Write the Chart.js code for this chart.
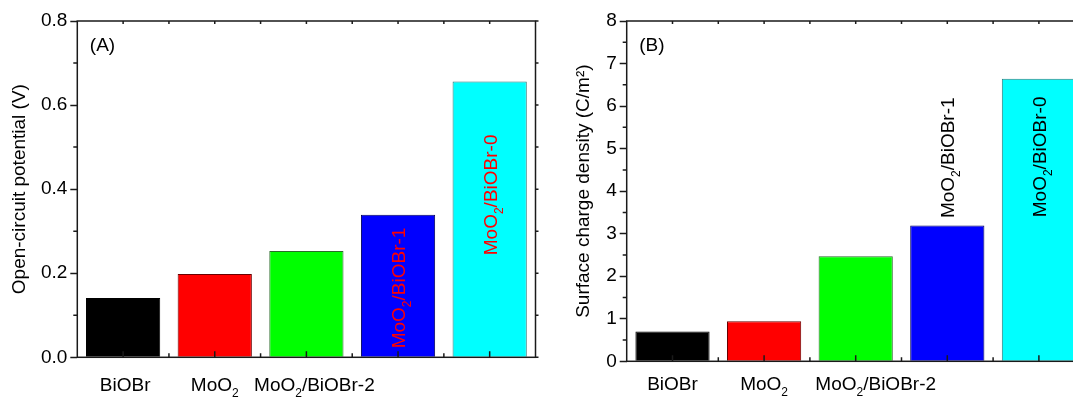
<!DOCTYPE html>
<html>
<head>
<meta charset="utf-8">
<script src="https://cdn.jsdelivr.net/npm/chart.js@4.4.0/dist/chart.umd.min.js"></script>
<style>
  html, body { margin: 0; padding: 0; background: #fff; overflow: hidden; }
  #wrapA { position: absolute; left: 0; top: 0; width: 549px; height: 397px; }
  #wrapB { position: absolute; left: 549px; top: 0; width: 560px; height: 397px; }
</style>
</head>
<body>
<div id="wrapA"><canvas id="chartA"></canvas></div>
<div id="wrapB"><canvas id="chartB"></canvas></div>
<script>
// -------------------------------
// Data
// -------------------------------
const categories = ["BiOBr", "MoO₂", "MoO₂/BiOBr-2", "MoO₂/BiOBr-1", "MoO₂/BiOBr-0"];
const potentialValues = [0.141, 0.198, 0.253, 0.339, 0.656];   // V
const chargeValues = [0.70, 0.94, 2.47, 3.19, 6.64];           // C/m²
const potentialTicks = [0, 0.2, 0.4, 0.6, 0.8];
const chargeTicks = [0, 1, 2, 3, 4, 5, 6, 7, 8];

const barColors = ["#000000", "#ff0000", "#00ff00", "#0000ff", "#00ffff"];
const barBorders = ["#000000", "#6a0000", "#2a6a2a", "#00005a", "#2a7a7a"];

const FONT = "'Liberation Sans', Arial, sans-serif";
const FS = 19;
const INK = "#1a1a1a";

// -------------------------------
// Helpers
// -------------------------------
// draws text where "₂" becomes a real lowered, smaller 2
function drawRich(ctx, text, x, y, align, size) {
  const parts = text.split(/(₂)/).filter(Boolean);
  const subSize = Math.round(size * 0.65);
  const widths = parts.map((p) => {
    const sub = p === "₂";
    ctx.font = (sub ? subSize : size) + "px " + FONT;
    return ctx.measureText(sub ? "2" : p).width;
  });
  const total = widths.reduce((s, w) => s + w, 0);
  let cx = align === "center" ? x - total / 2 : align === "right" ? x - total : x;
  ctx.textAlign = "left";
  ctx.textBaseline = "alphabetic";
  parts.forEach((p, i) => {
    const sub = p === "₂";
    ctx.font = (sub ? subSize : size) + "px " + FONT;
    ctx.fillText(sub ? "2" : p, cx, sub ? y + size * 0.33 : y);
    cx += widths[i];
  });
}

const framePlugin = {
  id: "frame",
  afterDatasetsDraw(chart, args, opts) {
    const { ctx, chartArea: a, scales } = chart;
    const x = scales.x, y = scales.y;
    const values = chart.data.datasets[0].data;
    ctx.save();
    ctx.strokeStyle = INK;
    ctx.lineWidth = 1.5;

    // frame
    ctx.strokeRect(a.left, a.top, a.right - a.left, a.bottom - a.top);

    // y minor ticks (left, outward) + right ticks (outward)
    const yt = y.ticks.map((t) => t.value);
    ctx.beginPath();
    yt.forEach((v, i) => {
      const py = y.getPixelForValue(v);
      ctx.moveTo(a.right, py); ctx.lineTo(a.right + 3, py);
      if (i < yt.length - 1) {
        const pm = y.getPixelForValue((v + yt[i + 1]) / 2);
        ctx.moveTo(a.left, pm); ctx.lineTo(a.left - 4, pm);
        ctx.moveTo(a.right, pm); ctx.lineTo(a.right + 3, pm);
      }
    });

    // x ticks: inward, major at centers, minor at boundaries
    categories.forEach((c, i) => {
      const px = x.getPixelForValue(i);
      ctx.moveTo(px, a.bottom); ctx.lineTo(px, a.bottom - 6);
      ctx.moveTo(px, a.top); ctx.lineTo(px, a.top + 3);
      if (i < categories.length - 1) {
        const pb = (px + x.getPixelForValue(i + 1)) / 2;
        ctx.moveTo(pb, a.bottom); ctx.lineTo(pb, a.bottom - 4);
        ctx.moveTo(pb, a.top); ctx.lineTo(pb, a.top + 3);
      }
    });
    ctx.stroke();

    // category labels under the axis
    ctx.fillStyle = "#000";
    opts.flat.forEach((i, k) => {
      drawRich(ctx, categories[i], x.getPixelForValue(i) + opts.flatShift[k], opts.labelY, "center", FS);
    });

    // rotated labels at the bars
    opts.rotated.forEach((r) => {
      const px = x.getPixelForValue(r.index);
      const top = y.getPixelForValue(values[r.index]);
      const base = y.getPixelForValue(0);
      let ay, align;
      if (r.anchor === "base") { ay = base - r.gap; align = "left"; }
      else if (r.anchor === "above") { ay = top - r.gap; align = "left"; }
      else { ay = top + r.gap; align = "right"; }
      ctx.save();
      ctx.fillStyle = r.color;
      ctx.translate(px, ay);
      ctx.rotate(-Math.PI / 2);
      drawRich(ctx, categories[r.index], 0, FS * 0.36, align, FS);
      ctx.restore();
    });

    // panel letter
    ctx.fillStyle = "#000";
    ctx.font = FS + "px " + FONT;
    ctx.textAlign = "left";
    ctx.textBaseline = "alphabetic";
    ctx.fillText(opts.letter, a.left + 12.5, a.top + 30);
    ctx.restore();
  },
};

// -------------------------------
// Build one panel
// -------------------------------
function makePanel(canvasId, values, tickList, fmt, title, geom, frameOpts) {
  return new Chart(document.getElementById(canvasId), {
    type: "bar",
    data: {
      labels: categories,
      datasets: [{
        data: values,
        backgroundColor: barColors,
        borderColor: barBorders,
        borderWidth: 1,
        barPercentage: 0.81,
        categoryPercentage: 1,
      }],
    },
    options: {
      responsive: true,
      maintainAspectRatio: false,
      animation: false,
      layout: { padding: { left: 0, top: geom.top, right: geom.padRight, bottom: 0 } },
      plugins: { legend: { display: false }, tooltip: { enabled: false }, frame: frameOpts },
      scales: {
        x: {
          type: "category",
          offset: true,
          ticks: { display: false },
          grid: { display: false },
          border: { display: false },
          afterFit: (s) => { s.height = geom.xHeight; },
        },
        y: {
          min: tickList[0],
          max: tickList[tickList.length - 1],
          afterBuildTicks: (s) => { s.ticks = tickList.map((v) => ({ value: v })); },
          afterFit: (s) => { s.width = geom.left; },
          ticks: { color: "#000", padding: 3, font: { family: FONT, size: FS }, callback: fmt },
          grid: { drawOnChartArea: false, drawTicks: true, tickLength: 7, tickColor: INK, tickWidth: 1.5 },
          border: { display: false },
          title: {
            display: true,
            text: title,
            color: "#000",
            font: { family: FONT, size: FS },
            padding: { top: geom.titlePad, bottom: 0 },
          },
        },
      },
    },
    plugins: [framePlugin],
  });
}

document.addEventListener("DOMContentLoaded", () => {
  makePanel(
    "chartA", potentialValues, potentialTicks, (v) => Number(v).toFixed(1),
    "Open-circuit potential (V)",
    { left: 77.3, top: 21, padRight: 549 - 535.5, xHeight: 397 - 357.3, titlePad: 8 },
    {
      letter: "(A)", labelY: 391, flat: [0, 1, 2], flatShift: [2, 0, 8],
      rotated: [
        { index: 3, anchor: "base", gap: 9, color: "#ff0000" },
        { index: 4, anchor: "below", gap: 53, color: "#ff0000" },
      ],
    }
  );

  makePanel(
    "chartB", chargeValues, chargeTicks, (v) => String(v),
    "Surface charge density (C/m²)",
    { left: 77.7, top: 21, padRight: 560 - 535.7, xHeight: 397 - 361.3, titlePad: 23 },
    {
      letter: "(B)", labelY: 390, flat: [0, 1, 2], flatShift: [0, 0, 20],
      rotated: [
        { index: 3, anchor: "above", gap: 7.5, color: "#000000" },
        { index: 4, anchor: "below", gap: 17.7, color: "#000000" },
      ],
    }
  );
});
</script>
</body>
</html>
